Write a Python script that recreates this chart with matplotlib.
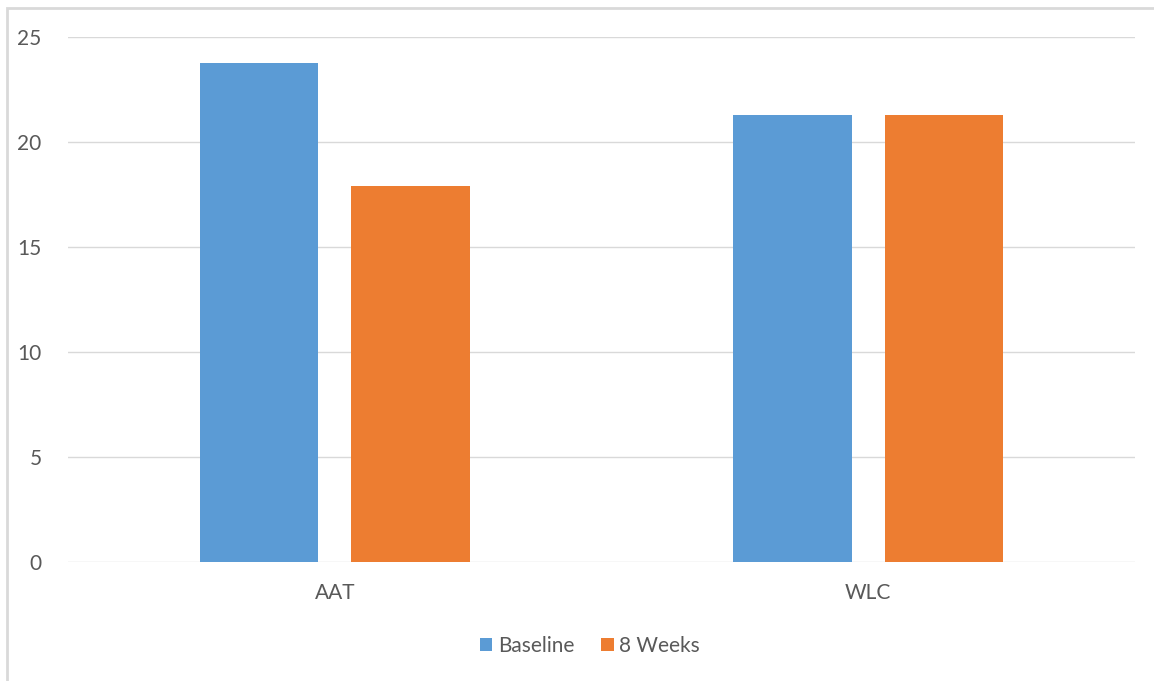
import matplotlib.pyplot as plt
import matplotlib.patches as mpatches
import numpy as np

groups = ['AAT', 'WLC']
series = ['Baseline', '8 Weeks']
baseline = [23.75, 21.3]
weeks8 = [17.9, 21.3]
colors = ['#5B9BD5', '#ED7D31']

plt.rcParams['font.family'] = ['Lato', 'DejaVu Sans']

fig = plt.figure(figsize=(11.54, 6.81), dpi=100)
ax = fig.add_axes([68/1154, (681-562)/681, (1135-68)/1154, (562-37)/681])

x = np.arange(len(groups))
w = 0.223
off = 0.142
ax.bar(x - off, baseline, w, color=colors[0], label=series[0], zorder=3)
ax.bar(x + off, weeks8, w, color=colors[1], label=series[1], zorder=3)

ax.set_xlim(-0.5, 1.5)
ax.set_ylim(0, 25)
ax.set_yticks(np.arange(0, 26, 5))
ax.set_xticks(x)
ax.set_xticklabels(groups)
ax.grid(axis='y', color='#D9D9D9', linewidth=1, zorder=0)
for s in ax.spines.values():
    s.set_visible(False)
ax.tick_params(axis='both', length=0, labelsize=15, colors='#595959')
ax.tick_params(axis='y', pad=19)
ax.tick_params(axis='x', pad=15)

leg = ax.legend(loc='center', bbox_to_anchor=(0.489, -0.16), ncol=2, frameon=False,
                fontsize=15, handlelength=0.6, handleheight=0.6, handletextpad=0.25,
                columnspacing=1.3)
for t in leg.get_texts():
    t.set_color('#595959')

# outer chart frame
fig.patches.append(mpatches.Rectangle((7/1154, -0.1), 1.2, (681-8)/681 + 0.1,
                                      transform=fig.transFigure, fill=False,
                                      edgecolor='#D9D9D9', linewidth=2))

fig.savefig('out.png', dpi=100)
